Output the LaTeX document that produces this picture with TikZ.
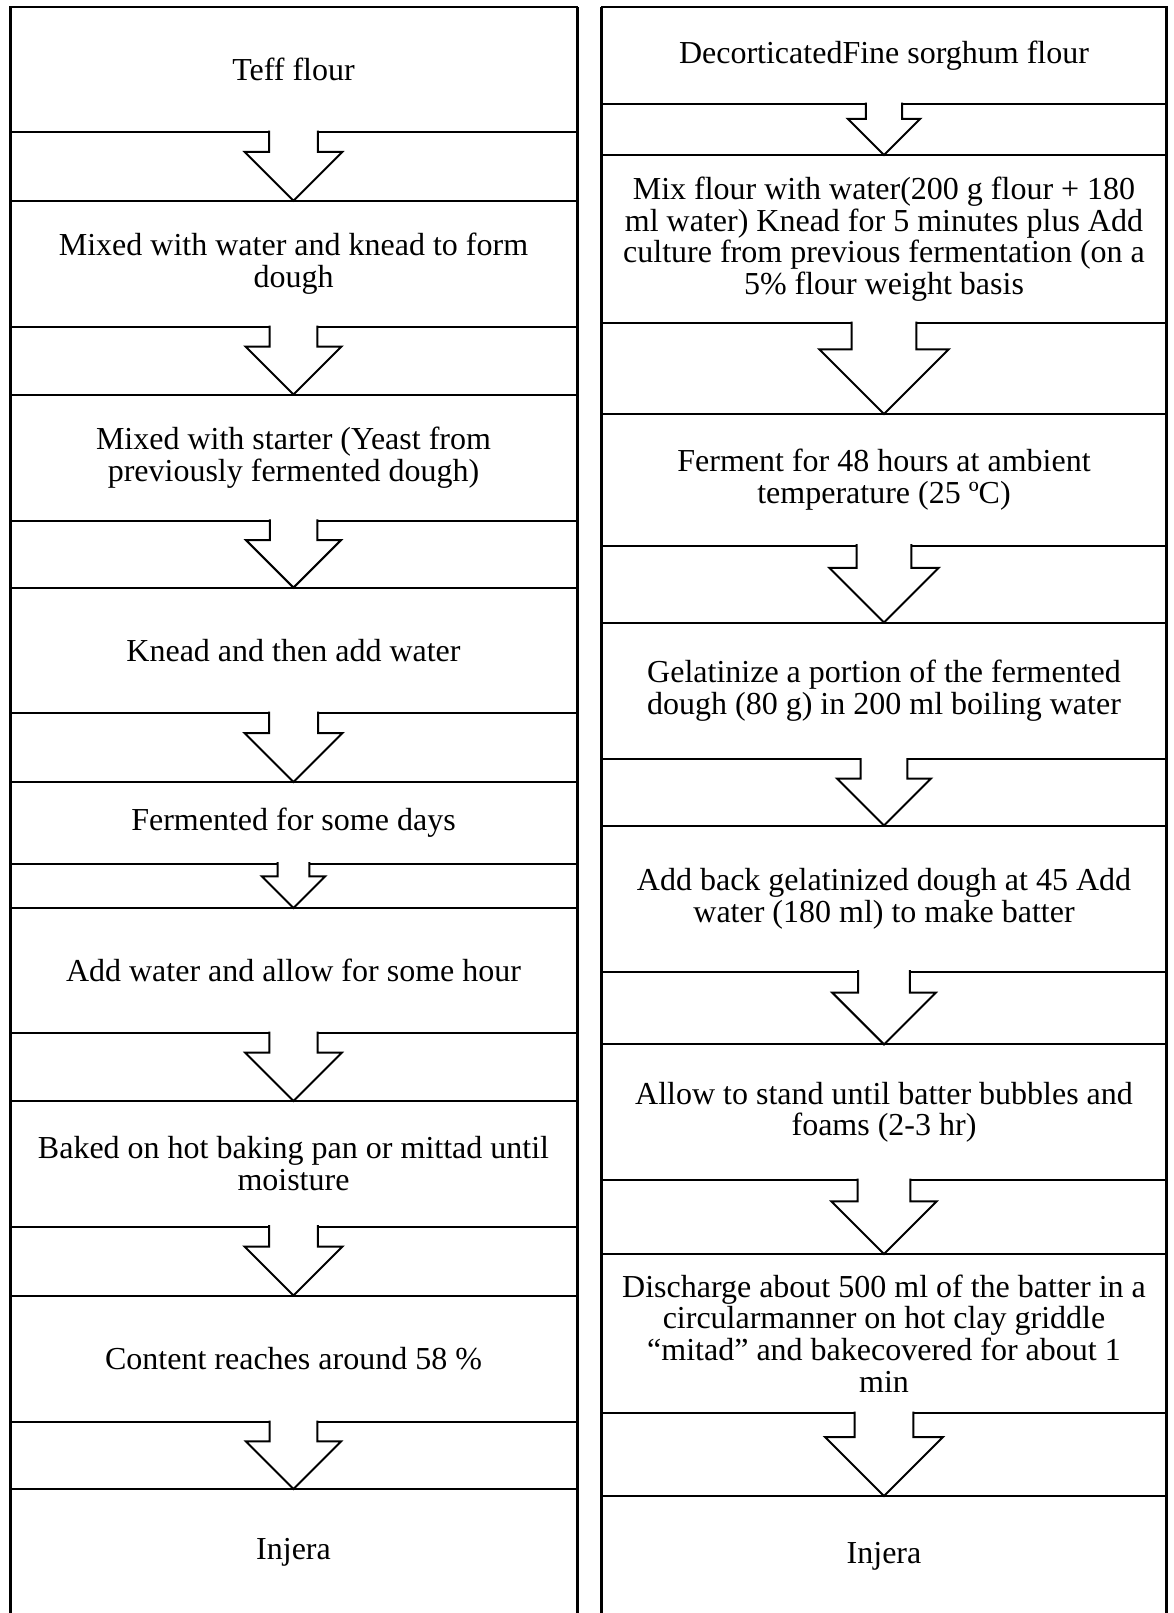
\documentclass[tikz,border=0pt]{standalone}
\usepackage{fontspec}
\setmainfont{Liberation Serif}
\usetikzlibrary{calc}
\tikzset{
  stepbox/.style={draw,line width=2pt,rectangle,outer sep=0pt,inner sep=0pt,
    align=center,font=\fontsize{32}{31.6}\selectfont},
  lbox/.style={stepbox,minimum width=567pt,xshift=293.5pt},
  rbox/.style={stepbox,minimum width=565pt,xshift=884pt},
  colframe/.style={line width=3pt},
  flowarrow/.style={draw,fill=white,line width=2pt,line join=miter}
}
\newcommand{\flowstep}[5]{%
  \node[#1,minimum height={(#4-#3)*1pt}] (#2) at (0,{(#3+#4)/2}) {#5};%
}
\newcommand{\blockarrow}[2]{%
  \path[flowarrow] let \p1=(#1.south), \p2=(#2.north),
      \n1={0.71*(\y1-\y2)}, \n2={\y1-0.29*(\y1-\y2)} in
    ({\x1-0.5*\n1},{\y1+1.4pt}) -- ({\x1-0.5*\n1},\n2) -- ({\x1-\n1},\n2) -- (\x1,\y2)
    -- ({\x1+\n1},\n2) -- ({\x1+0.5*\n1},\n2) -- ({\x1+0.5*\n1},{\y1+1.4pt});%
}
\begin{document}
\begin{tikzpicture}[x=1pt,y=-1pt]
  \useasboundingbox (0,0) rectangle (1173,1613);
  % teff column
  \flowstep{lbox}{l1}{7.5}{132}{Teff flour}
  \flowstep{lbox}{l2}{200.7}{327}{Mixed with water and knead to form\\dough}
  \flowstep{lbox}{l3}{394.5}{520.7}{Mixed with starter (Yeast from\\previously fermented dough)}
  \flowstep{lbox}{l4}{587.6}{713}{Knead and then add water}
  \flowstep{lbox}{l5}{782}{863.5}{Fermented for some days}
  \flowstep{lbox}{l6}{908}{1033}{Add water and allow for some hour}
  \flowstep{lbox}{l7}{1101}{1226.6}{Baked on hot baking pan or mittad until\\moisture}
  \flowstep{lbox}{l8}{1295.5}{1422}{Content reaches around 58 \%}
  \flowstep{lbox}{l9}{1489}{1616}{Injera}
  \draw[colframe] (l1.north west) -- (l9.south west) (l1.north east) -- (l9.south east);
  \foreach \a/\b in {l1/l2,l2/l3,l3/l4,l4/l5,l5/l6,l6/l7,l7/l8,l8/l9}
    \blockarrow{\a}{\b};
  % sorghum column
  \flowstep{rbox}{r1}{7.5}{104}{DecorticatedFine sorghum flour}
  \flowstep{rbox}{r2}{155}{323}{Mix flour with water(200 g flour + 180\\ml water) Knead for 5 minutes plus Add\\culture from previous fermentation (on a\\5\% flour weight basis}
  \flowstep{rbox}{r3}{414}{545.5}{Ferment for 48 hours at ambient\\temperature (25 ºC)}
  \flowstep{rbox}{r4}{622.5}{759.4}{Gelatinize a portion of the fermented\\dough (80 g) in 200 ml boiling water}
  \flowstep{rbox}{r5}{825.5}{971.5}{Add back gelatinized dough at 45 Add\\water (180 ml) to make batter}
  \flowstep{rbox}{r6}{1044.4}{1180}{Allow to stand until batter bubbles and\\foams (2-3 hr)}
  \flowstep{rbox}{r7}{1254}{1413}{Discharge about 500 ml of the batter in a\\circularmanner on hot clay griddle\\“mitad” and bakecovered for about 1\\min}
  \flowstep{rbox}{r8}{1496}{1616}{Injera}
  \draw[colframe] (r1.north west) -- (r8.south west) (r1.north east) -- (r8.south east);
  \foreach \a/\b in {r1/r2,r2/r3,r3/r4,r4/r5,r5/r6,r6/r7,r7/r8}
    \blockarrow{\a}{\b};
\end{tikzpicture}
\end{document}
